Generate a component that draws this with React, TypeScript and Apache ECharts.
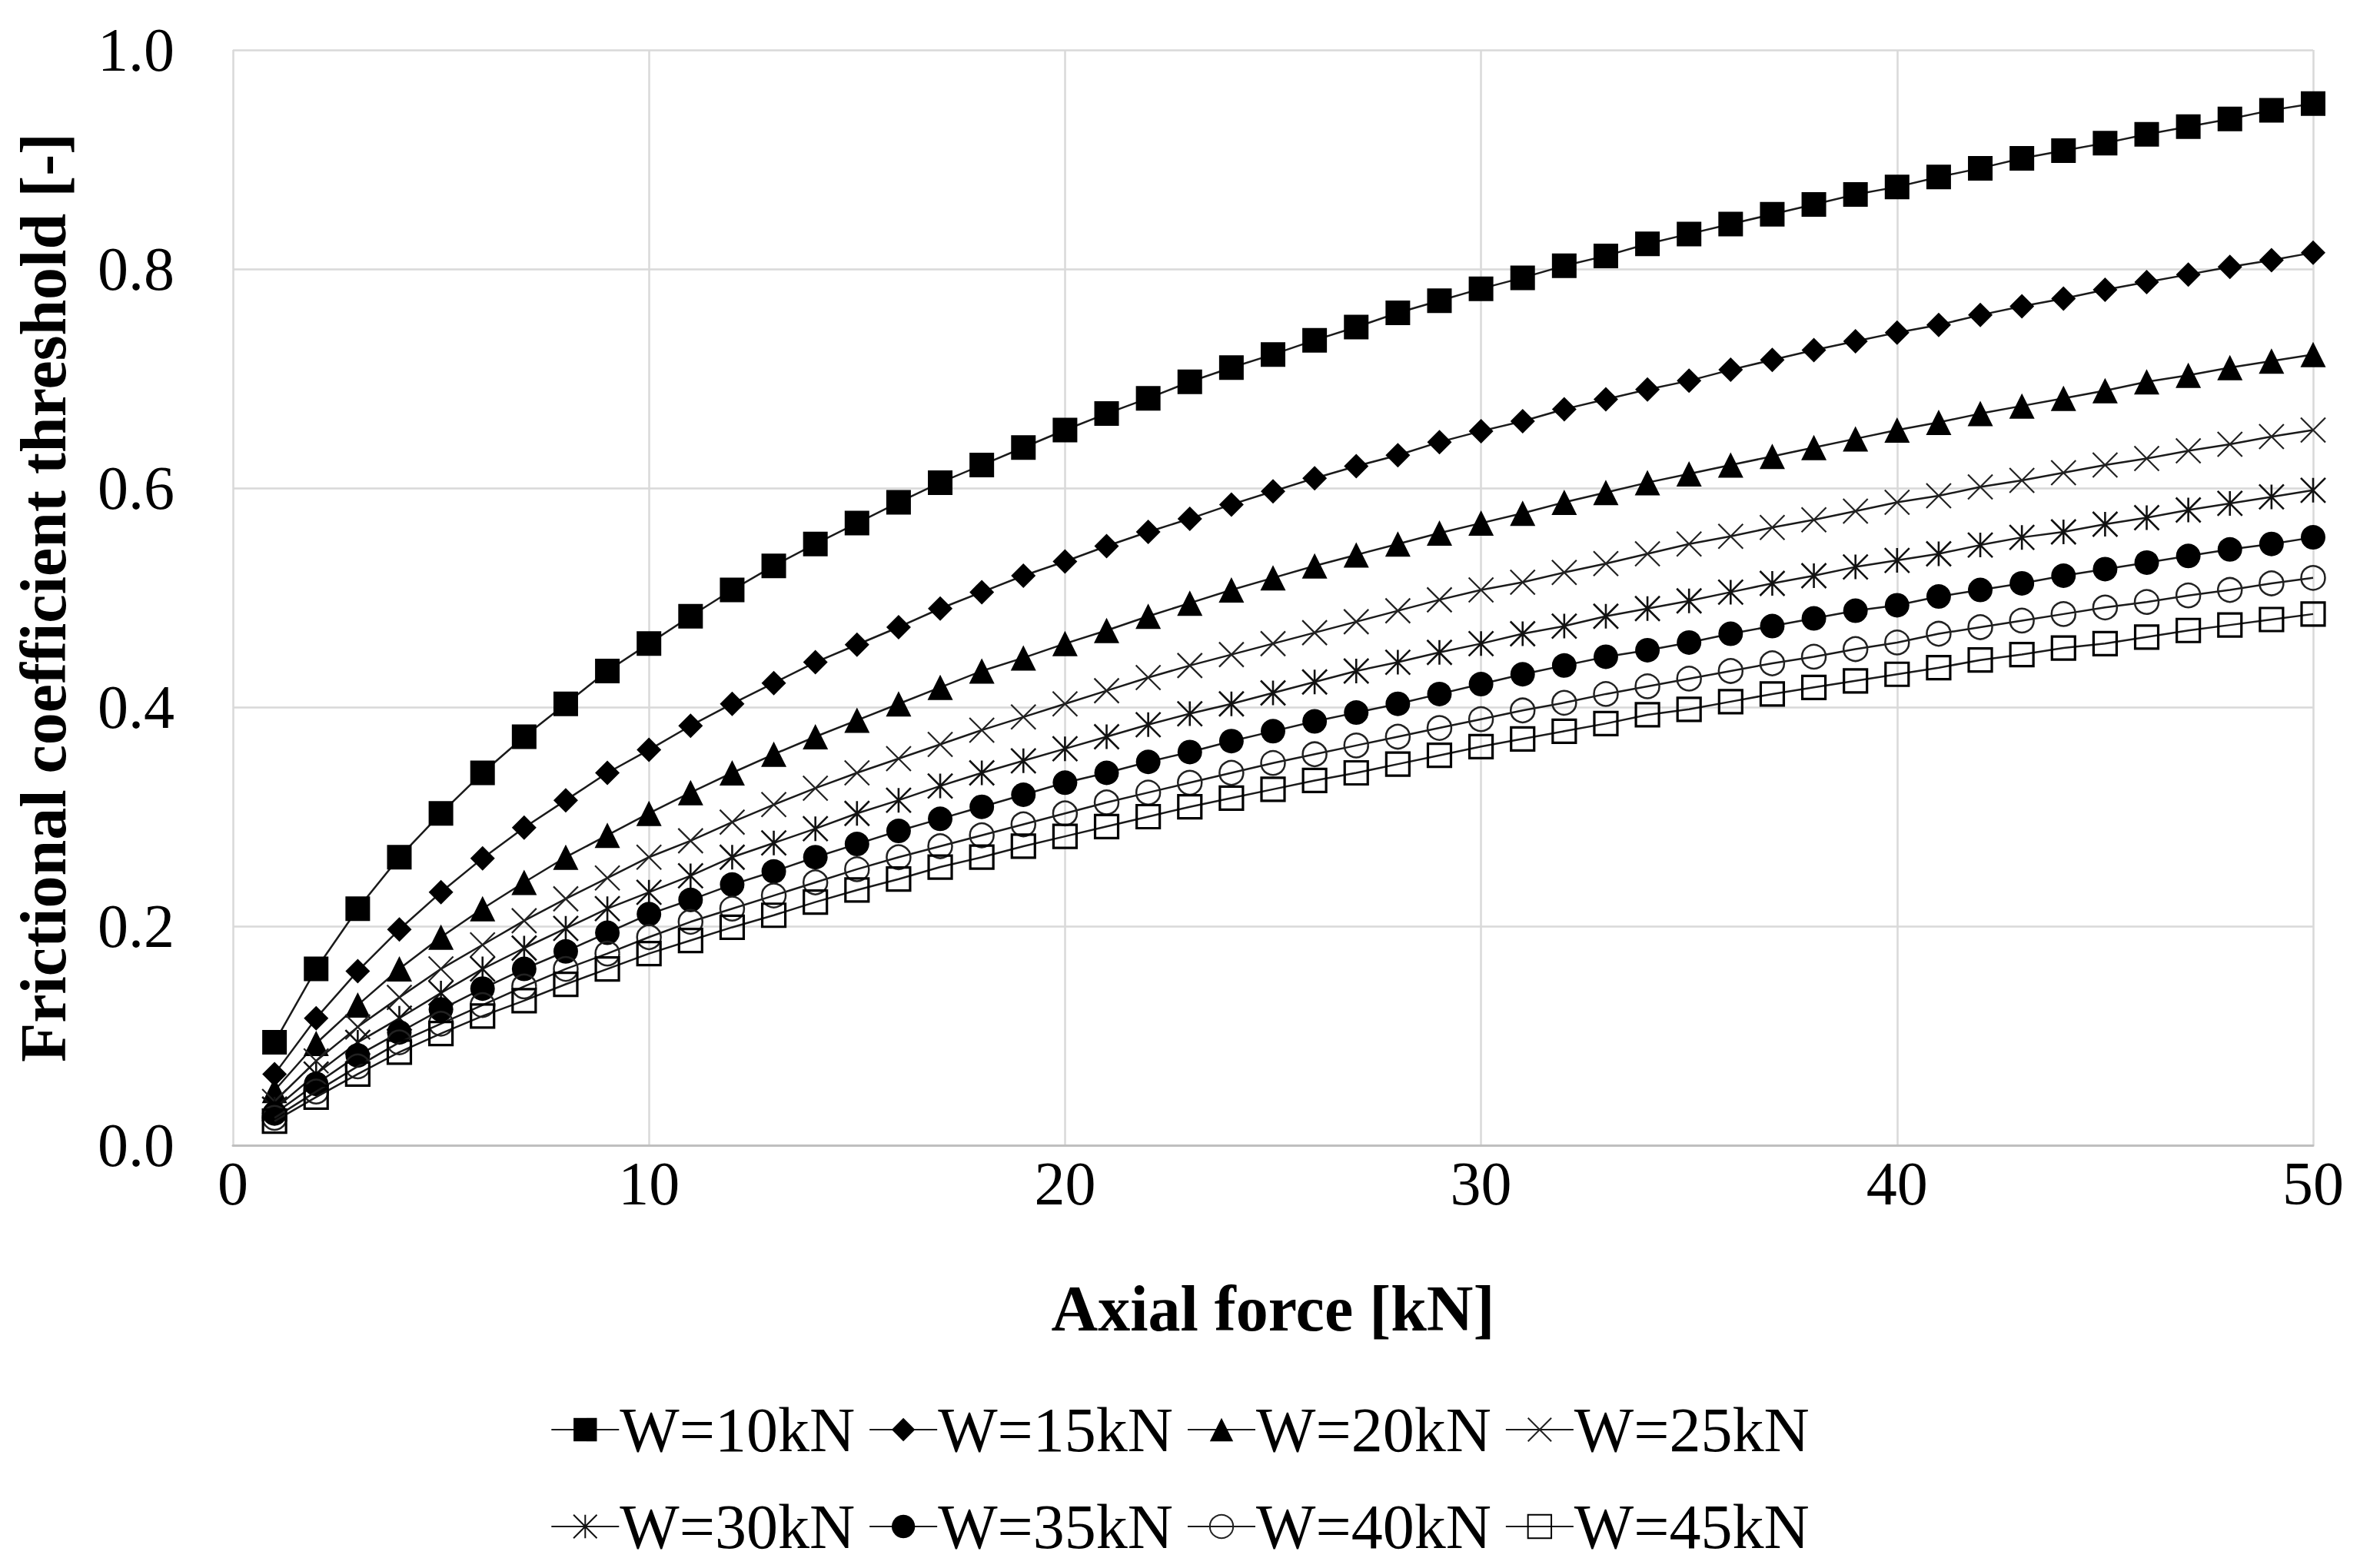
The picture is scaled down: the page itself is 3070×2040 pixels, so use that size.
import React, { useEffect, useRef } from "react";
import * as echarts from "echarts";

const axialForce = [
  1, 2, 3, 4, 5, 6, 7, 8, 9, 10, 11, 12, 13, 14, 15, 16, 17, 18, 19, 20, 21, 22, 23, 24, 25,
  26, 27, 28, 29, 30, 31, 32, 33, 34, 35, 36, 37, 38, 39, 40, 41, 42, 43, 44, 45, 46, 47, 48, 49, 50,
];

const w10 = [
  0.094, 0.161, 0.216, 0.263, 0.303, 0.34, 0.373, 0.403, 0.433, 0.458, 0.483, 0.507, 0.529, 0.549, 0.568,
  0.587, 0.605, 0.621, 0.637, 0.653, 0.668, 0.682, 0.697, 0.71, 0.722, 0.735, 0.747, 0.76, 0.771, 0.782,
  0.792, 0.803, 0.812, 0.823, 0.832, 0.841, 0.85, 0.859, 0.868, 0.875, 0.884, 0.892, 0.901, 0.908, 0.915,
  0.923, 0.93, 0.937, 0.945, 0.951,
];
const w15 = [
  0.065, 0.116, 0.159, 0.197, 0.231, 0.262, 0.29, 0.315, 0.34, 0.361, 0.383, 0.403, 0.422, 0.441, 0.457,
  0.473, 0.49, 0.505, 0.52, 0.533, 0.547, 0.56, 0.572, 0.585, 0.597, 0.609, 0.62, 0.63, 0.642, 0.652,
  0.661, 0.672, 0.681, 0.69, 0.698, 0.708, 0.717, 0.726, 0.734, 0.742, 0.749, 0.758, 0.766, 0.773, 0.781,
  0.788, 0.795, 0.802, 0.808, 0.815,
];
const w20 = [
  0.05, 0.093, 0.128, 0.161, 0.19, 0.216, 0.24, 0.263, 0.283, 0.303, 0.322, 0.34, 0.357, 0.373, 0.388,
  0.403, 0.418, 0.433, 0.445, 0.458, 0.47, 0.483, 0.495, 0.507, 0.518, 0.529, 0.539, 0.549, 0.559, 0.568,
  0.577, 0.587, 0.596, 0.605, 0.613, 0.621, 0.629, 0.637, 0.645, 0.653, 0.66, 0.668, 0.675, 0.682, 0.689,
  0.697, 0.703, 0.71, 0.716, 0.722,
];
const w25 = [
  0.04, 0.077, 0.108, 0.135, 0.161, 0.183, 0.205, 0.225, 0.244, 0.263, 0.278, 0.295, 0.311, 0.326, 0.34,
  0.353, 0.366, 0.379, 0.391, 0.403, 0.415, 0.427, 0.438, 0.448, 0.458, 0.468, 0.478, 0.488, 0.498, 0.507,
  0.514, 0.523, 0.531, 0.54, 0.549, 0.556, 0.564, 0.571, 0.579, 0.587, 0.593, 0.601, 0.607, 0.614, 0.621,
  0.627, 0.634, 0.64, 0.647, 0.653,
];
const w30 = [
  0.033, 0.065, 0.094, 0.116, 0.139, 0.161, 0.18, 0.198, 0.216, 0.231, 0.246, 0.263, 0.276, 0.289, 0.303,
  0.315, 0.328, 0.34, 0.351, 0.362, 0.373, 0.384, 0.394, 0.403, 0.413, 0.423, 0.433, 0.441, 0.45, 0.458,
  0.467, 0.474, 0.483, 0.49, 0.497, 0.505, 0.513, 0.52, 0.528, 0.534, 0.54, 0.548, 0.555, 0.56, 0.567,
  0.573, 0.58, 0.586, 0.592, 0.598,
];
const w35 = [
  0.029, 0.056, 0.082, 0.103, 0.124, 0.143, 0.161, 0.177, 0.194, 0.211, 0.224, 0.238, 0.25, 0.263, 0.275,
  0.287, 0.298, 0.309, 0.32, 0.331, 0.34, 0.35, 0.359, 0.369, 0.378, 0.387, 0.395, 0.403, 0.412, 0.421,
  0.43, 0.438, 0.446, 0.452, 0.459, 0.467, 0.474, 0.481, 0.488, 0.493, 0.501, 0.507, 0.513, 0.52, 0.526,
  0.532, 0.538, 0.544, 0.549, 0.555,
];
const w40 = [
  0.025, 0.049, 0.072, 0.094, 0.111, 0.128, 0.145, 0.161, 0.175, 0.19, 0.204, 0.216, 0.228, 0.24, 0.252,
  0.263, 0.273, 0.283, 0.293, 0.303, 0.313, 0.322, 0.331, 0.34, 0.349, 0.357, 0.365, 0.373, 0.381, 0.389,
  0.397, 0.404, 0.412, 0.419, 0.426, 0.433, 0.44, 0.446, 0.453, 0.459, 0.467, 0.473, 0.479, 0.485, 0.491,
  0.496, 0.502, 0.507, 0.513, 0.518,
];
const w45 = [
  0.022, 0.044, 0.065, 0.085, 0.102, 0.118, 0.132, 0.147, 0.161, 0.175, 0.187, 0.199, 0.21, 0.222, 0.233,
  0.243, 0.254, 0.263, 0.273, 0.282, 0.291, 0.3, 0.309, 0.317, 0.325, 0.333, 0.34, 0.348, 0.356, 0.364,
  0.371, 0.378, 0.385, 0.393, 0.398, 0.405, 0.412, 0.418, 0.424, 0.43, 0.436, 0.443, 0.448, 0.454, 0.458,
  0.464, 0.47, 0.475, 0.48, 0.485,
];

const seriesNames = ["W=10kN", "W=15kN", "W=20kN", "W=25kN", "W=30kN", "W=35kN", "W=40kN", "W=45kN"];
const seriesValues = [w10, w15, w20, w25, w30, w35, w40, w45];
const xTicks = [0, 10, 20, 30, 40, 50];
const yTicks = [0.0, 0.2, 0.4, 0.6, 0.8, 1.0];

const FONT = "'Liberation Serif', 'Times New Roman', serif";
const INK = "#000000";

const CROSS = "path://M0 0L10 10M10 0L0 10";
const STAR = "path://M0 0L10 10M10 0L0 10M5 0L5 10";

const markerStyles = [
  { symbol: "rect", size: 32, itemStyle: { color: INK, borderWidth: 0 } },
  { symbol: "diamond", size: 32, itemStyle: { color: INK, borderWidth: 0 } },
  { symbol: "triangle", size: 33, itemStyle: { color: INK, borderWidth: 0 } },
  { symbol: CROSS, size: 32, itemStyle: { color: "rgba(0,0,0,0)", borderColor: "#222", borderWidth: 2.2 } },
  { symbol: STAR, size: 32, itemStyle: { color: "rgba(0,0,0,0)", borderColor: "#111", borderWidth: 2.6 } },
  { symbol: "circle", size: 32, itemStyle: { color: INK, borderWidth: 0 } },
  { symbol: "circle", size: 31, itemStyle: { color: "rgba(0,0,0,0)", borderColor: "#222", borderWidth: 2.5 } },
  { symbol: "rect", size: 30, itemStyle: { color: "rgba(0,0,0,0)", borderColor: INK, borderWidth: 3.2 } },
];

export default function App() {
  const ref = useRef<HTMLDivElement>(null);

  useEffect(() => {
    if (!ref.current) return;
    const chart = echarts.init(ref.current, null, { renderer: "svg" });

    const series = seriesNames.map((name, i) => ({
      name,
      type: "line",
      data: axialForce.map((x, j) => [x, seriesValues[i][j]]),
      symbol: markerStyles[i].symbol,
      symbolSize: markerStyles[i].size,
      showAllSymbol: true,
      lineStyle: { color: "#1a1a1a", width: 2.5 },
      itemStyle: markerStyles[i].itemStyle,
      z: 2 + i,
      emphasis: { disabled: true },
    }));

    const legendBase = {
      left: "center",
      orient: "horizontal" as const,
      itemWidth: 88,
      itemHeight: 38,
      itemGap: 18,
      selectedMode: false,
      textStyle: { fontFamily: FONT, fontSize: 82, color: INK, padding: [0, 0, 0, -4] },
    };

    chart.setOption({
      animation: false,
      backgroundColor: "#ffffff",
      grid: { left: 303, right: 61, top: 65, bottom: 550, containLabel: false },
      xAxis: {
        type: "value",
        min: xTicks[0],
        max: xTicks[xTicks.length - 1],
        interval: 10,
        name: "Axial force [kN]",
        nameLocation: "middle",
        nameGap: 170,
        nameTextStyle: { fontFamily: FONT, fontSize: 84, fontWeight: "bold", color: INK },
        axisLine: { show: true, lineStyle: { color: "#bfbfbf", width: 3 } },
        axisTick: { show: false },
        axisLabel: { fontFamily: FONT, fontSize: 80, color: INK, margin: 10 },
        splitLine: { show: true, lineStyle: { color: "#d9d9d9", width: 2.5 } },
      },
      yAxis: {
        type: "value",
        min: yTicks[0],
        max: yTicks[yTicks.length - 1],
        interval: 0.2,
        name: "Frictional coefficient threshold [-]",
        nameLocation: "middle",
        nameGap: 205,
        nameTextStyle: { fontFamily: FONT, fontSize: 84, fontWeight: "bold", color: INK },
        axisLine: { show: false },
        axisTick: { show: false },
        axisLabel: {
          fontFamily: FONT,
          fontSize: 80,
          color: INK,
          margin: 76,
          formatter: (v: number) => v.toFixed(1),
        },
        splitLine: { show: true, lineStyle: { color: "#d9d9d9", width: 2.5 } },
      },
      legend: [
        { ...legendBase, top: 1814, data: seriesNames.slice(0, 4) },
        { ...legendBase, top: 1940, data: seriesNames.slice(4) },
      ],
      series,
    });

    return () => chart.dispose();
  }, []);

  return (
    <div
      ref={ref}
      style={{ position: "absolute", left: 0, top: 0, width: 3070, height: 2040, background: "#fff" }}
    />
  );
}
